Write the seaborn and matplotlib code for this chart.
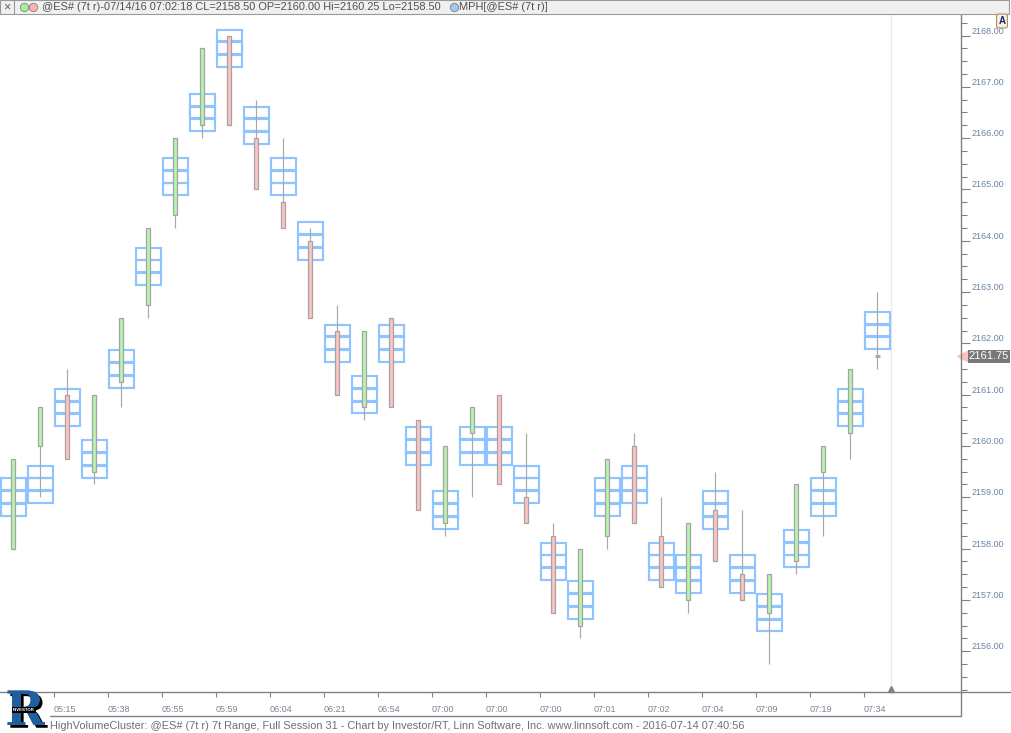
import matplotlib
matplotlib.use("Agg")
import matplotlib.pyplot as plt
import matplotlib.transforms as mtransforms
import matplotlib.patheffects as pe
from matplotlib.patches import Rectangle
from matplotlib.lines import Line2D
from matplotlib.ticker import FormatStrFormatter
import numpy as np
import seaborn as sns

# bar data, one entry per 7-tick range bar
opens = [2158.0, 2160.0, 2161.0, 2159.5, 2161.25, 2162.75, 2164.5, 2166.25, 2168.0,
         2166.0, 2164.75, 2164.0, 2162.25, 2160.75, 2162.5, 2160.5, 2158.5, 2160.25,
         2161.0, 2159.0, 2158.25, 2156.5, 2158.25, 2160.0, 2158.25, 2157.0, 2158.75,
         2157.5, 2156.75, 2157.75, 2159.5, 2160.25, 2161.75]
closes = [2159.75, 2160.75, 2159.75, 2161.0, 2162.5, 2164.25, 2166.0, 2167.75, 2166.25,
          2165.0, 2164.25, 2162.5, 2161.0, 2162.25, 2160.75, 2158.75, 2160.0, 2160.75,
          2159.25, 2158.5, 2156.75, 2158.0, 2159.75, 2158.5, 2157.25, 2158.5, 2157.75,
          2157.0, 2157.5, 2159.25, 2160.0, 2161.5, 2161.75]
highs = [2159.75, 2160.75, 2161.5, 2161.0, 2162.5, 2164.25, 2166.0, 2167.75, 2168.0,
         2166.75, 2166.0, 2164.25, 2162.75, 2162.25, 2162.5, 2160.5, 2160.0, 2160.75,
         2161.0, 2160.25, 2158.5, 2158.0, 2159.75, 2160.25, 2159.0, 2158.5, 2159.5,
         2158.75, 2157.5, 2159.25, 2160.0, 2161.5, 2163.0]
lows = [2158.0, 2159.0, 2159.75, 2159.25, 2160.75, 2162.5, 2164.25, 2166.0, 2166.25,
        2165.0, 2164.25, 2162.5, 2161.0, 2160.5, 2160.75, 2158.75, 2158.25, 2159.0,
        2159.25, 2158.5, 2156.75, 2156.25, 2158.0, 2158.5, 2157.25, 2156.75, 2157.75,
        2157.0, 2155.75, 2157.5, 2158.25, 2159.75, 2161.5]
# centre price of the high volume cluster (3 price levels) per bar
cluster_mid = [2159.0, 2159.25, 2160.75, 2159.75, 2161.5, 2163.5, 2165.25, 2166.5, 2167.75,
               2166.25, 2165.25, 2164.0, 2162.0, 2161.0, 2162.0, 2160.0, 2158.75, 2160.0,
               2160.0, 2159.25, 2157.75, 2157.0, 2159.0, 2159.25, 2157.75, 2157.5, 2158.75,
               2157.5, 2156.75, 2158.0, 2159.0, 2160.75, 2162.25]
time_labels = ["05:15", "05:38", "05:55", "05:59", "06:04", "06:21", "06:54", "07:00",
               "07:00", "07:00", "07:01", "07:02", "07:04", "07:09", "07:19", "07:34"]
cluster_offsets = [-0.25, 0.0, 0.25]
header_bar = 23

BLUE = "#90c4ff"
UP = "#b6f5ae"
DOWN = "#ffc2c2"
EDGE = "#a4a4a4"
AXIS = "#808080"

sns.set_theme(style="white")
plt.rcParams["font.family"] = ["Liberation Sans", "DejaVu Sans"]

W, H = 1011, 733
fig = plt.figure(figsize=(W / 100, H / 100), dpi=100)
fig.patch.set_facecolor("white")


def fx(px):
    return px / W


def fy(py):
    return 1 - py / H


ax = fig.add_axes([0, fy(691.7), fx(960.7), fy(15) - fy(691.7)])
ax.set_facecolor("white")

n = len(opens)
x = np.arange(n)
o = np.array(opens)
c = np.array(closes)

# volume clusters
for off in cluster_offsets:
    ax.bar(x, 0.232, bottom=np.array(cluster_mid) + off - 0.116, width=0.93,
           facecolor="none", edgecolor=BLUE, linewidth=1.55, zorder=2)

# candles
ax.vlines(x, lows, highs, color="#a8a8a8", lw=0.85, zorder=3)
body_lo = np.minimum(o, c)
body_h = np.abs(c - o)
has_body = body_h > 0
colors = np.where(c >= o, UP, DOWN)
ax.bar(x[has_body], body_h[has_body], bottom=body_lo[has_body], width=0.155,
       color=colors[has_body], edgecolor=EDGE, linewidth=0.9, zorder=4)
ax.hlines(o[~has_body], x[~has_body] - 0.1, x[~has_body] + 0.1, color=EDGE, lw=2, zorder=4)

ax.axvline(n - 0.5, color="#ebebeb", lw=1, zorder=0)
ax.plot([n - 0.5], [0.004], marker="^", ms=4, color=AXIS,
        transform=mtransforms.blended_transform_factory(ax.transData, ax.transAxes),
        clip_on=False)

ax.set_xlim(-0.493, 35.09)
ax.set_ylim(2155.21, 2168.40)

# axes / ticks
for side in ["top", "left"]:
    ax.spines[side].set_visible(False)
for side in ["right", "bottom"]:
    ax.spines[side].set_color(AXIS)
    ax.spines[side].set_linewidth(1)

ax.yaxis.tick_right()
ax.set_yticks(np.arange(2156, 2169, 1))
ax.set_yticks(np.arange(2155.25, 2168.5, 0.25), minor=True)
ax.yaxis.set_major_formatter(FormatStrFormatter("%.2f"))
ax.tick_params(axis="y", which="major", right=True, left=False, length=6.5, width=0.8,
               color=AXIS, labelsize=6.5, labelcolor="#6a84a6", pad=1, direction="out")
ax.tick_params(axis="y", which="minor", right=True, left=False, length=4.3, width=0.8,
               color=AXIS, direction="out")
for lab in ax.get_yticklabels():
    lab.set_verticalalignment("bottom")

ax.set_xticks(np.arange(2, n, 2) - 0.5)
ax.set_xticklabels(time_labels, ha="left")
ax.tick_params(axis="x", bottom=True, length=3.6, width=0.8, color=AXIS, labelsize=6.5,
               labelcolor="#7a8595", pad=6, direction="out")
ax.grid(False)

# last price marker
blend = mtransforms.blended_transform_factory(ax.transAxes, ax.transData)
last = closes[-1]
ax.plot([1.0014], [last], marker="<", ms=7, color="#ffc0c0", transform=blend, clip_on=False)
ax.text(1.0085, last, f"{last:.2f}", transform=blend, ha="left", va="center",
        color="white", fontsize=8,
        bbox=dict(boxstyle="square,pad=0.12", fc="#787878", ec="none"), clip_on=False)

# frame lines around the time axis
fig.add_artist(Line2D([fx(960.7), 1], [fy(691.7), fy(691.7)], color=AXIS, lw=1))
fig.add_artist(Line2D([fx(50), fx(960.7)], [fy(716), fy(716)], color=AXIS, lw=1))
fig.add_artist(Line2D([fx(960.7), fx(960.7)], [fy(691.7), fy(716)], color=AXIS, lw=1))

# header strip
fig.add_artist(Rectangle((0, fy(13.5)), fx(1009), 13.5 / H, transform=fig.transFigure,
                         facecolor="#f0f0f0", edgecolor="#9a9a9a", lw=0.8))
fig.add_artist(Line2D([fx(14), fx(14)], [fy(0), fy(13.5)], color="#9a9a9a", lw=0.8))
fig.text(fx(7), fy(7), "×", fontsize=9, color="#606060", ha="center", va="center")
for px, col in [(24, "#a8f0a0"), (33, "#ffb0b0"), (454, "#a0c8f0")]:
    fig.add_artist(Line2D([fx(px)], [fy(7)], marker="o", ms=6, color=col,
                          markeredgecolor="#808080", markeredgewidth=0.6))
hb = header_bar
fig.text(fx(42), fy(7),
         f"@ES# (7t r)-07/14/16 07:02:18 CL={closes[hb]:.2f} OP={opens[hb]:.2f} "
         f"Hi={highs[hb]:.2f} Lo={lows[hb]:.2f}",
         fontsize=7.9, color="#505050", va="center", ha="left")
fig.text(fx(459), fy(7), "MPH[@ES# (7t r)]", fontsize=7.9, color="#505050",
         va="center", ha="left")

fig.text(fx(1002), fy(21), "A", fontsize=7, weight="bold", color="#1a2a6a",
         ha="center", va="center",
         bbox=dict(boxstyle="round,pad=0.2", fc="#f4f0e6", ec="#b09060", lw=0.8))

# footer
fig.text(fx(50), fy(726),
         "HighVolumeCluster: @ES# (7t r) 7t Range, Full Session 31 - Chart by Investor/RT, "
         "Linn Software, Inc. www.linnsoft.com - 2016-07-14 07:40:56",
         fontsize=7.9, color="#707070", va="center", ha="left")

# logo
fig.text(fx(25), fy(712), "R", fontsize=34, family="DejaVu Serif", weight="bold",
         color="#1f5f9f", ha="center", va="center",
         path_effects=[pe.withSimplePatchShadow(offset=(2, -2), shadow_rgbFace="black",
                                                alpha=1), pe.Normal()])
fig.text(fx(24), fy(710), "INVESTOR", fontsize=3.2, color="white", ha="center",
         va="center", weight="bold",
         bbox=dict(boxstyle="square,pad=0.25", fc="black", ec="none"))

fig.savefig("out.png", dpi=100)
